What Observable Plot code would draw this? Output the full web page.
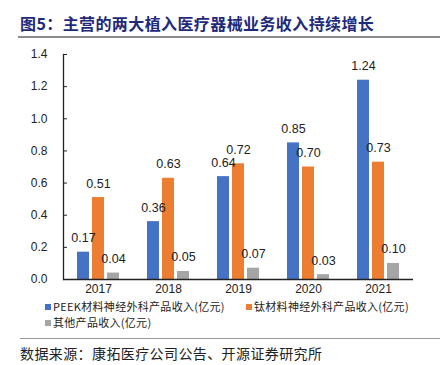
<!DOCTYPE html>
<html><head><meta charset="utf-8">
<script src="https://cdn.jsdelivr.net/npm/d3@7"></script>
<script src="https://cdn.jsdelivr.net/npm/@observablehq/plot@0.6"></script>
<style>
body{margin:0;width:446px;height:365px;background:#fff;position:relative;overflow:hidden;font-family:"Noto Sans CJK SC",sans-serif}
#title{position:absolute;left:20px;top:12px;font-size:16px;font-weight:bold;color:#1F2A7A;letter-spacing:0.4px;line-height:22px;white-space:nowrap}
#rule1{position:absolute;left:18px;width:422px;top:36px;height:2px;background:#8c8c8c}
#chart{position:absolute;left:0;top:40px}
.lg{position:absolute;font-size:11px;line-height:13px;color:#222;white-space:nowrap;display:flex;align-items:center;letter-spacing:0.3px}
.sw{width:6px;height:6px;margin-right:2px;display:inline-block}
#rule2{position:absolute;left:20px;width:420px;top:338px;height:1px;background:#999}
#source{position:absolute;left:20px;top:343px;font-size:14px;line-height:20px;letter-spacing:0.4px;color:#222;white-space:nowrap}
</style></head>
<body>
<div id="title">图5：主营的两大植入医疗器械业务收入持续增长</div>
<div id="rule1"></div>
<div id="chart"></div>
<div id="legend"></div>
<div id="rule2"></div>
<div id="source">数据来源：康拓医疗公司公告、开源证券研究所</div>
<script>
const years = ["2017","2018","2019","2020","2021"];
const series = ["PEEK材料神经外科产品收入(亿元)","钛材料神经外科产品收入(亿元)","其他产品收入(亿元)"];
const peek = [0.17,0.36,0.64,0.85,1.24];
const titanium = [0.51,0.63,0.72,0.70,0.73];
const other = [0.04,0.05,0.07,0.03,0.10];
const colors = ["#4472C4","#ED7D31","#A5A5A5"];
const yTicks = [0,0.2,0.4,0.6,0.8,1.0,1.2,1.4];

const values = [peek, titanium, other];
const data = [];
years.forEach((yr,i)=>series.forEach((s,j)=>data.push({year:yr, series:s, value:values[j][i]})));

const chart = Plot.plot({
  width:446, height:260,
  marginLeft:62, marginRight:33, marginTop:14, marginBottom:21,
  style:{fontFamily:"'Liberation Sans', Arial, sans-serif", fontSize:"12px", color:"#222", background:"transparent"},
  fx:{domain:years, padding:0, label:null},
  x:{domain:series, padding:0.226, paddingOuter:0.877, axis:null},
  y:{domain:[0,1.4], label:null},
  color:{domain:series, range:colors},
  marks:[
    Plot.barY(data,{fx:"year", x:"series", y:"value", fill:"series"}),
    Plot.text(data,{fx:"year", x:"series", y:"value", text:d=>d3.format(".2f")(d.value), dy:-14, fontSize:12.5, fill:"#222"}),
    Plot.ruleY([0],{stroke:"#222", strokeWidth:1.3}),
    Plot.axisY({ticks:yTicks, tickSize:-4, tickPadding:20, tickFormat:d3.format(".1f"), label:null, stroke:"#222"}),
    Plot.frame({anchor:"left", facetAnchor:"left", stroke:"#222", strokeWidth:1.3}),
    Plot.axisFx({anchor:"bottom", tickSize:0, tickPadding:5, label:null})
  ]
});
document.getElementById("chart").appendChild(chart);

const lg = document.getElementById("legend");
const pos = [[45,300],[246,300],[45,316]];
series.forEach((s,j)=>{
  const d = document.createElement("div");
  d.className="lg";
  d.style.left=pos[j][0]+"px"; d.style.top=pos[j][1]+"px";
  d.innerHTML=`<span class="sw" style="background:${colors[j]}"></span><span>${s}</span>`;
  lg.appendChild(d);
});
</script>
</body></html>
